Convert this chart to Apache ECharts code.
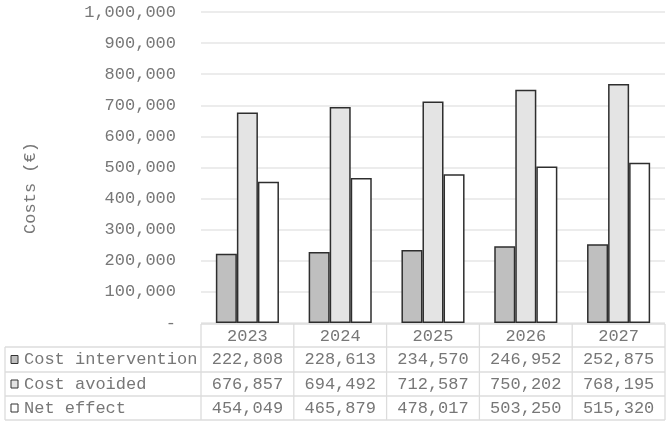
<!DOCTYPE html>
<html><head><meta charset="utf-8">
<script src="https://cdn.jsdelivr.net/npm/echarts@6/dist/echarts.min.js"></script>
<style>html,body{margin:0;padding:0;background:#fff}#c{width:670px;height:423px}</style>
</head><body><div id="c"></div>
<script>
var years = ['2023','2024','2025','2026','2027'];
var seriesNames = ['Cost intervention','Cost avoided','Net effect'];
var costIntervention = [222808, 228613, 234570, 246952, 252875];
var costAvoided = [676857, 694492, 712587, 750202, 768195];
var netEffect = [454049, 465879, 478017, 503250, 515320];
var yTicks = [0,100000,200000,300000,400000,500000,600000,700000,800000,900000,1000000];
var yTitle = 'Costs (€)';

(function(){
var FONT = 'Liberation Mono';
var FS = 17;
var TXT = '#777';
var LINE = '#dcdcdc';
var fills = ['#bfbfbf','#e4e4e4','#ffffff'];
var values = [costIntervention, costAvoided, netEffect];

function fmt(v){ return v === 0 ? '-' : v.toString().replace(/\B(?=(\d{3})+(?!\d))/g, ','); }

var chart = echarts.init(document.getElementById('c'));
var option = {
  animation: false,
  grid: {left: 201, right: 5, top: 12, bottom: 100, containLabel: false},
  xAxis: {type:'category', data: years, axisLine:{show:false}, axisTick:{show:false}, axisLabel:{show:false}},
  yAxis: {type:'value', min: yTicks[0], max: yTicks[yTicks.length-1], interval: 100000,
    axisLine:{show:false}, axisTick:{show:false},
    axisLabel:{formatter: fmt, color: TXT, fontFamily: FONT, fontSize: FS, margin: 25},
    splitLine:{lineStyle:{color:'#e6e6e6', width:1.5}}
  },
  series: seriesNames.map(function(n,i){
    return {name:n, type:'bar', data: values[i], barGap: '0%', barCategoryGap: '32%',
      itemStyle:{color: fills[i], borderColor:'#2e2e2e', borderWidth:1.5}};
  })
};
chart.setOption(option);

var g = [];
var cx0 = chart.convertToPixel({xAxisIndex:0}, years[0]);
var cx1 = chart.convertToPixel({xAxisIndex:0}, years[1]);
var cw = cx1 - cx0;
var tl = cx0 - cw/2;
var tr = tl + cw*years.length;
var ty = chart.convertToPixel({yAxisIndex:0}, 0) + 1;
var rowH = [23, 25, 24, 24];
var rowTop = [ty];
for (var r=0;r<rowH.length;r++) rowTop.push(rowTop[r]+rowH[r]);
var tableLeft = 5;
function ln(a,b,c,d){ g.push({type:'line', shape:{x1:a,y1:b,x2:c,y2:d}, style:{stroke:LINE, lineWidth:1.3}, silent:true}); }
ln(tl, rowTop[0], tr, rowTop[0]);
for (var r=1;r<rowTop.length;r++) ln(tableLeft, rowTop[r], tr, rowTop[r]);
for (var c=0;c<=years.length;c++) ln(tl+c*cw, rowTop[0], tl+c*cw, rowTop[rowTop.length-1]);
ln(tableLeft, rowTop[1], tableLeft, rowTop[rowTop.length-1]);
function txt(s,x,y,align){ g.push({type:'text', x:x, y:y, style:{text:s, fill:TXT, font: FS+'px "'+FONT+'"', align:align, verticalAlign:'middle'}, silent:true}); }
for (var c=0;c<years.length;c++) {
  var cx = chart.convertToPixel({xAxisIndex:0}, years[c]);
  txt(years[c], cx, (rowTop[0]+rowTop[1])/2+1, 'center');
  for (var s=0;s<seriesNames.length;s++) txt(fmt(values[s][c]), cx, (rowTop[s+1]+rowTop[s+2])/2, 'center');
}
for (var s=0;s<seriesNames.length;s++) {
  var cy = (rowTop[s+1]+rowTop[s+2])/2;
  g.push({type:'rect', shape:{x:11, y:cy-4, width:7, height:8}, style:{fill:fills[s], stroke:'#333', lineWidth:1}, silent:true});
  txt(seriesNames[s], 24, cy, 'left');
}
g.push({type:'text', x:30, y:188, rotation: Math.PI/2, style:{text:yTitle, fill:TXT, font: FS+'px "'+FONT+'"', align:'center', verticalAlign:'middle'}, silent:true});
chart.setOption({graphic: g});
})();
</script></body></html>
